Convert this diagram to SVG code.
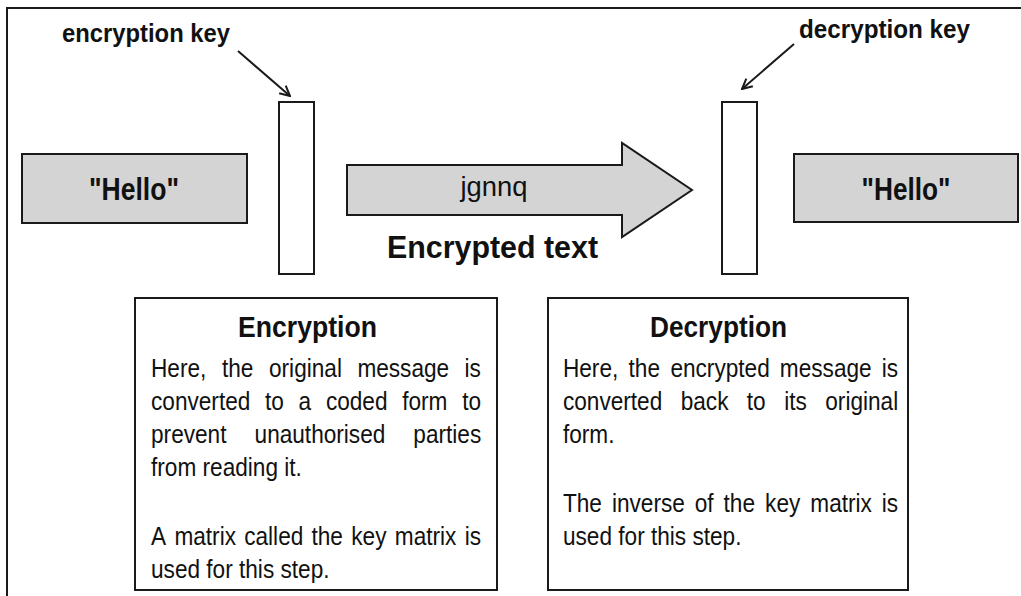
<svg xmlns="http://www.w3.org/2000/svg" width="1021" height="596" viewBox="0 0 1021 596">
<defs>
<style>
.frame{fill:none;stroke:#1a1a1a;stroke-width:2}
.box{fill:#fff;stroke:#1a1a1a;stroke-width:2}
.grey{fill:#d4d4d4;stroke:#1a1a1a;stroke-width:2}
.conn{fill:none;stroke:#1a1a1a;stroke-width:2}
.lbl{font-family:"Liberation Sans",Arial,sans-serif;font-weight:bold;fill:#111}
.body{font-family:"Liberation Sans",Arial,sans-serif;font-size:26px;fill:#111}
</style>
<marker id="vhead" viewBox="0 0 12 12" refX="11" refY="6" markerWidth="12" markerHeight="12" markerUnits="userSpaceOnUse" orient="auto">
<path d="M1,1 L11,6 L1,11" fill="none" stroke="#1a1a1a" stroke-width="2"/>
</marker>
</defs>
<rect width="1021" height="596" fill="#fff"/>
<path class="frame" d="M7,597 L7,8 L1022,8"/>

<g id="hello-in">
<rect class="grey" x="22" y="154" width="225" height="69"/>
<text class="lbl" x="134" y="200" font-size="32" text-anchor="middle" textLength="90" lengthAdjust="spacingAndGlyphs">"Hello"</text>
</g>

<g id="enc-key">
<rect class="box" x="279" y="102" width="35" height="172"/>
<text class="lbl" x="62" y="42" font-size="25" textLength="168" lengthAdjust="spacingAndGlyphs">encryption key</text>
</g>

<g id="cipher">
<polygon class="grey" points="347,165 622,165 622,143 692,190 622,237 622,215 347,215"/>
<text x="494" y="196" font-family="Liberation Sans,Arial,sans-serif" font-size="28" fill="#111" text-anchor="middle" textLength="67" lengthAdjust="spacingAndGlyphs">jgnnq</text>
<text class="lbl" x="387" y="258" font-size="32" textLength="211" lengthAdjust="spacingAndGlyphs">Encrypted text</text>
</g>

<g id="dec-key">
<rect class="box" x="722" y="102" width="35" height="172"/>
<text class="lbl" x="799" y="38" font-size="25" textLength="171" lengthAdjust="spacingAndGlyphs">decryption key</text>
</g>

<g id="hello-out">
<rect class="grey" x="794" y="154" width="224" height="68"/>
<text class="lbl" x="906" y="200" font-size="32" text-anchor="middle" textLength="89" lengthAdjust="spacingAndGlyphs">"Hello"</text>
</g>

<g id="encryption">
<rect class="box" x="135" y="298" width="362" height="292"/>
<text class="lbl" x="238" y="337" font-size="30" textLength="139" lengthAdjust="spacingAndGlyphs">Encryption</text>
<g transform="scale(0.87,1)">
<text class="body" y="377"><tspan x="173.6">Here,</tspan><tspan x="255.1">the</tspan><tspan x="309.2">original</tspan><tspan x="410.8">message</tspan><tspan x="534.0">is</tspan></text>
<text class="body" y="410"><tspan x="173.6">converted</tspan><tspan x="304.5">to</tspan><tspan x="343.2">a</tspan><tspan x="374.6">coded</tspan><tspan x="462.3">form</tspan><tspan x="531.3">to</tspan></text>
<text class="body" y="443"><tspan x="173.6">prevent</tspan><tspan x="292.6">unauthorised</tspan><tspan x="475.1">parties</tspan></text>
<text class="body" x="173.6" y="476">from reading it.</text>
<text class="body" y="545"><tspan x="173.6">A</tspan><tspan x="200.5">matrix</tspan><tspan x="280.7">called</tspan><tspan x="358.0">the</tspan><tspan x="403.8">key</tspan><tspan x="453.8">matrix</tspan><tspan x="534.1">is</tspan></text>
<text class="body" x="173.6" y="578">used for this step.</text>
</g>
</g>

<g id="decryption">
<rect class="box" x="548" y="298" width="360" height="292"/>
<text class="lbl" x="650" y="337" font-size="30" textLength="137" lengthAdjust="spacingAndGlyphs">Decryption</text>
<g transform="scale(0.87,1)">
<text class="body" y="377"><tspan x="647.1">Here,</tspan><tspan x="722.5">the</tspan><tspan x="770.6">encrypted</tspan><tspan x="896.4">message</tspan><tspan x="1013.6">is</tspan></text>
<text class="body" y="410"><tspan x="647.1">converted</tspan><tspan x="782.4">back</tspan><tspan x="858.4">to</tspan><tspan x="901.4">its</tspan><tspan x="948.6">original</tspan></text>
<text class="body" x="647.1" y="443">form.</text>
<text class="body" y="512"><tspan x="647.1">The</tspan><tspan x="703.4">inverse</tspan><tspan x="798.6">of</tspan><tspan x="831.7">the</tspan><tspan x="879.4">key</tspan><tspan x="931.4">matrix</tspan><tspan x="1013.4">is</tspan></text>
<text class="body" x="647.1" y="545">used for this step.</text>
</g>
</g>

<g id="connectors">
<line class="conn" x1="238" y1="51" x2="290" y2="96" marker-end="url(#vhead)"/>
<line class="conn" x1="794" y1="44" x2="742" y2="89" marker-end="url(#vhead)"/>
</g>
</svg>
